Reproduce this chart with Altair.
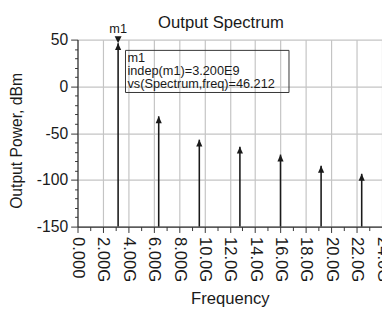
import json
import altair as alt
import pandas as pd

# ---- data ----
freq_hz = [3.2e9, 6.4e9, 9.6e9, 12.8e9, 16.0e9, 19.2e9, 22.4e9]
power_dbm = [46.212, -32.0, -57.0, -64.5, -73.0, -85.0, -93.5]

marker_name = "m1"
marker_freq = 3.2e9
marker_power = 46.212

title_text = "Output Spectrum"
x_title = "Frequency"
y_title = "Output Power, dBm"

x_tick_values = [0, 1e9, 2e9, 3e9, 4e9, 5e9, 6e9, 7e9, 8e9, 9e9, 10e9, 11e9, 12e9,
                 13e9, 14e9, 15e9, 16e9, 17e9, 18e9, 19e9, 20e9, 21e9, 22e9, 23e9, 24e9]
x_tick_labels = ["0.000", "2.00G", "4.00G", "6.00G", "8.00G", "10.0G", "12.0G",
                 "14.0G", "16.0G", "18.0G", "20.0G", "22.0G", "24.0G"]
y_tick_values = [50, 40, 30, 20, 10, 0, -10, -20, -30, -40, -50, -60, -70, -80,
                 -90, -100, -110, -120, -130, -140, -150]
y_tick_labels = ["50", "0", "-50", "-100", "-150"]

df = pd.DataFrame({"freq": freq_hz, "power": power_dbm})
mk = pd.DataFrame({"name": [marker_name], "freq": [marker_freq], "power": [marker_power]})
box_lines = "\n".join([
    marker_name,
    f"indep({marker_name})={marker_freq / 1e9:.3f}E9",
    f"vs(Spectrum,freq)={marker_power:.3f}",
])
box_df = pd.DataFrame({"t": [box_lines]})
title_df = pd.DataFrame({"t": [title_text]})

FONT = "Liberation Sans"
INK = "#1a1a1a"

x_major = "datum.value % 2e9 === 0"
y_major = "datum.value % 50 === 0"

x_enc = alt.X(
    "freq:Q",
    scale=alt.Scale(domain=[0, 24e9], nice=False, zero=False),
    axis=alt.Axis(
        title=x_title,
        values=x_tick_values,
        labelExpr=f"{x_major} ? {json.dumps(x_tick_labels)}[round(datum.value / 2e9)] : ''",
        labelAngle=90,
        labelAlign="left",
        labelBaseline="middle",
        labelPadding=4,
        labelFontSize=17,
        labelOverlap=False,
        labelFlush=False,
        labelBound=False,
        tickSize={"condition": {"test": x_major, "value": 6}, "value": 4},
        gridOpacity={"condition": {"test": x_major, "value": 1}, "value": 0},
        titleFontSize=17,
        titleX=155.5,
        titleY=79,
        titleAlign="center",
        titleBaseline="alphabetic",
    ),
)
y_enc = alt.Y(
    "power:Q",
    scale=alt.Scale(domain=[-150, 50], nice=False, zero=False),
    axis=alt.Axis(
        title=y_title,
        values=y_tick_values,
        labelExpr=f"{y_major} ? {json.dumps(y_tick_labels)}[round((50 - datum.value) / 50)] : ''",
        labelPadding=3,
        labelFontSize=16,
        labelOverlap=False,
        labelFlush=False,
        labelBound=False,
        tickSize={"condition": {"test": y_major, "value": 7}, "value": 3},
        gridOpacity={"condition": {"test": y_major, "value": 1}, "value": 0},
        titleFontSize=16,
        titleAngle=-90,
        titleX=-57,
        titleY=103,
        titleAlign="center",
        titleBaseline="alphabetic",
    ),
)

stems = alt.Chart(df).mark_rule(color=INK, strokeWidth=1.6).encode(
    x=x_enc, y=y_enc, y2=alt.datum(-150)
)
arrows = alt.Chart(df).mark_point(
    shape="M0,0L-0.45,1L0.45,1Z", size=196, filled=True, color=INK, opacity=1
).encode(x=x_enc, y=y_enc)
marker_sym = alt.Chart(mk).mark_point(
    shape="M0,0L-0.5,-1L0.5,-1Z", size=196, filled=True, color=INK, opacity=1
).encode(x=x_enc, y=y_enc)
marker_lbl = alt.Chart(mk).mark_text(
    font=FONT, fontSize=13, color=INK, dy=-10, baseline="alphabetic", align="center"
).encode(x=x_enc, y=y_enc, text="name:N")

box = alt.Chart(box_df).mark_rect(fill=None, stroke="#333333", strokeWidth=1).encode(
    x=alt.value(49), x2=alt.value(216), y=alt.value(11), y2=alt.value(54)
)
box_text = alt.Chart(box_df).mark_text(
    font=FONT, fontSize=13, color=INK, align="left", baseline="alphabetic",
    lineBreak="\n", lineHeight=13,
).encode(x=alt.value(51), y=alt.value(23), text="t:N")

title = alt.Chart(title_df).mark_text(
    font=FONT, fontSize=17, color=INK, align="center", baseline="alphabetic"
).encode(x=alt.value(146.5), y=alt.value(-12), text="t:N")

chart = (
    alt.layer(stems, arrows, marker_sym, marker_lbl, box, box_text, title)
    .properties(
        width=311,
        height=191,
        autosize=alt.AutoSizeParams(type="none"),
        padding={"left": 71, "top": 29, "right": 0, "bottom": 88},
    )
    .configure_view(stroke=None)
    .configure_axis(
        labelFont=FONT,
        titleFont=FONT,
        labelColor=INK,
        titleColor=INK,
        titleFontWeight="normal",
        domainColor="#333333",
        domainWidth=1.2,
        tickColor="#333333",
        tickWidth=1,
        gridColor="#c4c4c4",
        gridWidth=1.2,
    )
)

chart.save("out.html", embed_options={"renderer": "svg", "actions": False})
